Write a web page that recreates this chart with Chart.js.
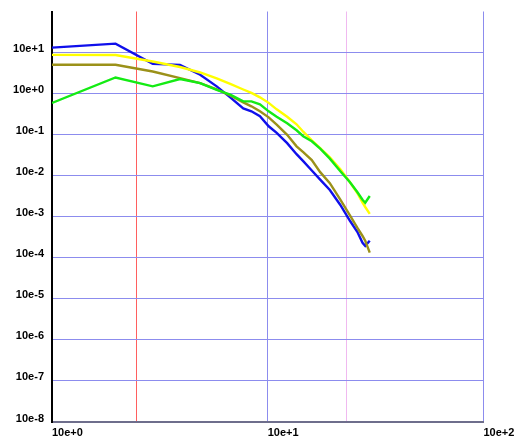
<!DOCTYPE html>
<html>
<head>
<meta charset="utf-8">
<script src="https://cdn.jsdelivr.net/npm/chart.js@4/dist/chart.umd.min.js"></script>
<style>
  html, body { margin: 0; padding: 0; background: #ffffff; }
  canvas { display: block; }
</style>
</head>
<body>
<canvas id="chart" width="515" height="441"></canvas>
<script>
// Shared sample positions along the x axis
const xValues = [1, 1.97, 2.93, 3.92, 4.86, 5.8, 6.7, 7.7, 8.4, 9.2,
                 10.1, 11, 12.3, 13.6, 14.6, 16, 17.5, 19.4, 21.7, 24,
                 26, 27.5, 28.3, 29.7];

// Series values (one per x position)
const blueY   = [13.2, 16.5, 5.3, 5.0, 2.88, 1.50, 0.81, 0.437, 0.37, 0.28,
                 0.16, 0.11, 0.062, 0.0334, 0.0226, 0.0134, 0.0080, 0.00447, 0.00194, 0.00081,
                 0.00043, 0.000231, 0.000195, 0.00026];
const yellowY = [8.8, 8.7, 6.05, 4.45, 3.27, 2.34, 1.72, 1.26, 1.04, 0.81,
                 0.595, 0.414, 0.272, 0.179, 0.118, 0.073, 0.047, 0.028, 0.0144, 0.007,
                 0.0038, 0.0022, 0.00173, 0.00118];
const greenY  = [0.59, 2.47, 1.5, 2.27, 1.8, 1.23, 0.94, 0.647, 0.647, 0.547,
                 0.37, 0.272, 0.189, 0.128, 0.0916, 0.069, 0.0455, 0.026, 0.0129, 0.0070,
                 0.0040, 0.0026, 0.0022, 0.0032];
const oliveY  = [5.03, 5.03, 3.46, 2.38, 1.8, 1.26, 0.9, 0.61, 0.49, 0.37,
                 0.264, 0.176, 0.099, 0.052, 0.0375, 0.024, 0.0122, 0.0066, 0.0026, 0.0011,
                 0.00054, 0.00034, 0.00026, 0.000134];

// Axis ticks and marker lines
const xTickValues = [1, 10, 100];
const markerX = [2.47, 23.2];
const yTickValues = [1e-8, 1e-7, 1e-6, 1e-5, 1e-4, 1e-3, 1e-2, 1e-1, 1, 10, 100];
const yLabelValues = [1e-8, 1e-7, 1e-6, 1e-5, 1e-4, 1e-3, 1e-2, 1e-1, 1, 10];

const gridBlue = 'rgb(140,140,238)';
const markerColors = ['rgb(255,95,95)', 'rgb(240,185,240)'];

function expLabel(v) {
  const e = Math.round(Math.log10(v));
  return '10e' + (e >= 0 ? '+' : '-') + Math.abs(e);
}
function isOneOf(v, list) {
  return list.some(t => Math.abs(Math.log10(t) - Math.log10(v)) < 1e-6);
}
function series(ys) {
  return xValues.map((x, i) => ({ x: x, y: ys[i] }));
}

const labelFont = { family: "'Liberation Sans', Arial, sans-serif", size: 11, weight: 'bold' };

new Chart(document.getElementById('chart'), {
  type: 'line',
  data: {
    datasets: [
      { data: series(greenY),  borderColor: 'rgb(20,235,20)',  order: 1 },
      { data: series(yellowY), borderColor: 'rgb(255,255,0)',  order: 2 },
      { data: series(oliveY),  borderColor: 'rgb(155,145,25)', order: 3 },
      { data: series(blueY),   borderColor: 'rgb(15,15,235)',  order: 4 }
    ]
  },
  options: {
    responsive: false,
    animation: false,
    layout: { padding: { top: 9, right: 31.5, left: 0, bottom: 0 } },
    elements: {
      line: { borderWidth: 2.4, tension: 0, fill: false },
      point: { radius: 0, hoverRadius: 0 }
    },
    plugins: { legend: { display: false }, tooltip: { enabled: false } },
    scales: {
      x: {
        type: 'logarithmic',
        min: 1,
        max: 100,
        afterBuildTicks: s => {
          s.ticks = xTickValues.concat(markerX).sort((a, b) => a - b).map(v => ({ value: v }));
        },
        afterFit: s => { s.height = 19; s.paddingRight = 0; s.paddingLeft = 0; },
        ticks: {
          autoSkip: false,
          maxRotation: 0,
          minRotation: 0,
          align: 'start',
          padding: 4,
          color: '#000',
          font: labelFont,
          callback: v => isOneOf(v, xTickValues) ? expLabel(v) : ''
        },
        grid: {
          drawTicks: false,
          lineWidth: 1,
          color: ctx => {
            const v = ctx.tick ? ctx.tick.value : 1;
            const mi = markerX.findIndex(m => Math.abs(m - v) < 1e-9);
            if (mi >= 0) return markerColors[mi];
            if (v <= 1) return 'rgba(0,0,0,0)';
            return gridBlue;
          }
        },
        border: { display: true, color: 'rgb(110,110,140)', width: 2 }
      },
      y: {
        type: 'logarithmic',
        min: 1e-8,
        max: 100,
        afterBuildTicks: s => { s.ticks = yTickValues.map(v => ({ value: v })); },
        afterFit: s => { s.width = 52; },
        ticks: {
          autoSkip: false,
          padding: 8,
          color: '#000',
          font: Object.assign({}, labelFont, { lineHeight: '7px' }),
          callback: v => isOneOf(v, yLabelValues) ? [expLabel(v), ''] : ''
        },
        grid: {
          drawTicks: false,
          lineWidth: 1,
          color: ctx => (ctx.tick && ctx.tick.value >= 100) ? 'rgba(0,0,0,0)' : gridBlue
        },
        border: { display: true, color: '#000', width: 2 }
      }
    }
  }
});
</script>
</body>
</html>
